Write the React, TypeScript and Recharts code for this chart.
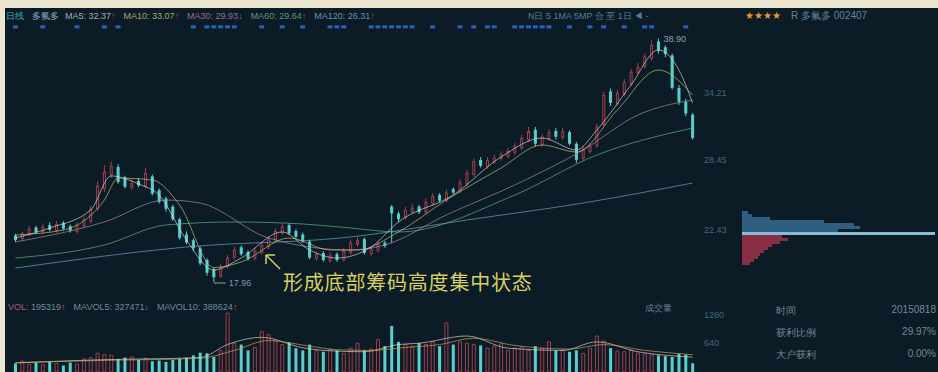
import React from 'react';
import { ComposedChart, BarChart, Bar, Line, XAxis, YAxis, Scatter, ReferenceDot, Cell } from 'recharts';

// daily candles, 多氟多 002407
const opens = [
  21.9, 21.7, 22.1, 22.6, 22.3, 22.8, 22.4, 23.0, 22.7, 22.3,
  22.8, 23.2, 24.3, 26.0, 27.2, 27.8, 26.9, 26.1, 26.6, 26.2,
  27.0, 25.8, 25.1, 24.4, 23.3, 22.0, 21.5, 20.8, 19.8, 19.0,
  18.5, 19.3, 20.1, 20.9, 20.5, 20.0, 20.5, 21.0, 21.6, 22.2,
  22.8, 22.3, 22.0, 21.4, 20.0, 20.4, 19.8, 20.3, 19.9, 20.5,
  21.2, 21.6, 20.4, 20.7, 21.3, 24.4, 23.8, 23.5, 24.0, 24.4,
  24.0, 24.7, 25.4, 25.0, 25.9, 25.8, 26.4, 27.2, 28.4, 27.9,
  28.3, 28.6, 28.8, 29.1, 29.5, 30.2, 31.0, 29.8, 30.3, 30.9,
  30.4, 30.8, 29.8, 28.6, 29.2, 29.7, 31.5, 34.3, 33.3, 34.1,
  35.0, 36.0, 36.5, 37.2, 38.6, 38.1, 37.4, 34.6, 33.4, 32.3,
];
const closes = [
  21.6, 22.1, 22.5, 22.3, 22.7, 22.5, 22.9, 22.6, 22.4, 22.8,
  23.3, 24.2, 26.2, 27.4, 27.9, 26.6, 26.2, 26.4, 26.3, 27.3,
  25.6, 24.9, 24.3, 23.4, 21.8, 21.4, 20.9, 19.6, 18.8, 18.4,
  19.2, 20.0, 20.7, 20.4, 20.0, 20.6, 21.1, 21.6, 22.3, 22.7,
  22.2, 21.9, 21.5, 20.1, 20.3, 19.9, 20.2, 19.9, 20.6, 21.3,
  21.5, 20.5, 20.8, 21.2, 21.1, 23.9, 23.4, 24.1, 24.3, 24.0,
  24.8, 25.3, 25.0, 25.6, 25.7, 26.5, 27.3, 28.3, 28.0, 28.4,
  28.6, 28.9, 29.2, 29.6, 30.3, 30.9, 29.9, 30.4, 30.8, 30.5,
  30.9, 29.9, 28.5, 29.3, 29.6, 31.3, 34.0, 33.4, 34.2, 35.1,
  36.0, 36.4, 37.3, 38.3, 37.9, 37.6, 34.7, 33.5, 32.5, 30.4,
];
const highs = [
  22.1, 22.3, 22.8, 22.8, 23.0, 23.1, 23.2, 23.2, 22.9, 23.1,
  23.6, 24.5, 26.6, 28.0, 28.3, 28.1, 27.1, 26.8, 26.9, 27.8,
  27.2, 26.0, 25.3, 24.6, 23.5, 22.3, 21.7, 21.0, 20.0, 19.2,
  19.5, 20.3, 21.0, 21.1, 20.7, 20.9, 21.4, 21.9, 22.6, 23.0,
  23.0, 22.5, 22.2, 21.6, 20.6, 20.6, 20.5, 20.5, 20.9, 21.6,
  21.8, 21.8, 21.0, 21.5, 21.5, 24.6, 24.0, 24.4, 24.7, 24.6,
  25.1, 25.6, 25.6, 25.9, 26.1, 26.8, 27.6, 28.6, 28.7, 28.7,
  28.9, 29.2, 29.5, 29.9, 30.6, 31.3, 31.3, 30.7, 31.1, 31.2,
  31.2, 31.0, 30.0, 29.6, 29.9, 31.6, 34.3, 34.6, 34.5, 35.4,
  36.3, 36.8, 37.6, 38.8, 38.9, 38.3, 37.6, 34.9, 33.7, 32.5,
];
const lows = [
  21.4, 21.5, 21.9, 22.1, 22.1, 22.3, 22.2, 22.4, 22.2, 22.1,
  22.6, 23.0, 24.1, 25.7, 26.9, 26.4, 26.0, 25.9, 26.1, 26.0,
  25.4, 24.7, 24.0, 23.2, 21.6, 21.2, 20.6, 19.4, 18.5, 17.96,
  18.3, 19.1, 19.9, 20.2, 19.8, 19.8, 20.3, 20.8, 21.4, 22.0,
  22.0, 21.7, 21.3, 19.9, 19.8, 19.7, 19.6, 19.7, 19.7, 20.3,
  21.0, 20.3, 20.2, 20.5, 20.9, 21.3, 23.1, 23.3, 23.8, 23.8,
  23.8, 24.5, 24.8, 24.8, 25.5, 25.6, 26.2, 27.0, 27.8, 27.7,
  28.1, 28.4, 28.6, 28.9, 29.3, 30.0, 29.6, 29.6, 30.1, 30.2,
  30.2, 29.7, 28.2, 28.4, 29.0, 29.5, 31.3, 33.1, 33.1, 33.9,
  34.8, 35.8, 36.3, 37.0, 37.6, 37.3, 34.5, 33.2, 32.2, 30.2,
];
// volume, thousand shares
const volumes = [
  190, 240, 175, 210, 160, 225, 190, 145, 210, 175,
  290, 320, 415, 385, 370, 290, 320, 335, 270, 305,
  240, 255, 225, 270, 290, 320, 370, 430, 415, 335,
  480, 1310, 640, 610, 480, 545, 895, 830, 690, 610,
  655, 530, 480, 610, 480, 450, 510, 480, 415, 530,
  640, 480, 510, 720, 575, 1025, 670, 610, 575, 640,
  610, 670, 575, 1090, 610, 670, 640, 610, 590, 530,
  575, 625, 480, 530, 560, 480, 575, 530, 670, 480,
  495, 450, 480, 415, 530, 800, 690, 530, 465, 450,
  480, 415, 400, 385, 370, 350, 335, 400, 385, 195,
];

// moving averages read at sample candles: [candle index, value]
const ma5Pts = [
  [0, 21.74], [5, 22.6], [11, 24.15], [14, 27.08], [18, 26.39], [21, 25.44], [25, 21.57],
  [29, 18.99], [33, 20.02], [39, 22.26], [43, 20.71], [47, 20.02], [52, 20.97], [56, 23.12],
  [64, 25.44], [71, 28.71], [77, 30.34], [82, 29.31], [85, 31.03], [90, 34.9], [94, 37.91],
  [97, 36.19], [99, 33.35],
];
const ma10Pts = [
  [0, 22.0], [7, 22.43], [13, 25.01], [15, 26.9], [20, 26.73], [24, 24.58], [29, 19.2],
  [33, 19.68], [40, 21.74], [46, 20.71], [50, 20.71], [56, 22.26], [63, 25.01], [71, 27.76],
  [77, 29.74], [82, 29.14], [88, 32.75], [94, 36.19], [99, 34.04],
];
const ma30Pts = [
  [0, 21.4], [13, 23.12], [22, 25.01], [27, 24.75], [37, 21.74], [49, 20.71], [54, 21.14],
  [63, 23.72], [73, 26.3], [83, 29.31], [91, 32.32], [99, 33.61],
];
const ma60Pts = [
  [0, 20.02], [13, 21.14], [22, 22.86], [32, 23.12], [42, 22.95], [49, 22.6], [56, 22.26],
  [73, 25.44], [85, 28.88], [99, 31.2],
];
const ma120Pts = [
  [0, 19.16], [25, 20.97], [49, 21.83], [66, 23.29], [83, 24.75], [99, 26.47],
];
const mavol5Pts = [
  [0, 200], [12, 270], [27, 320], [31, 610], [36, 770], [42, 540], [45, 480], [51, 450],
  [56, 610], [59, 640], [66, 800], [72, 530], [80, 480], [85, 670], [91, 450], [99, 330],
];
const mavol10Pts = [
  [0, 210], [12, 255], [27, 305], [32, 480], [37, 700], [43, 575], [47, 495], [52, 480],
  [57, 545], [62, 610], [67, 750], [73, 590], [81, 510], [86, 610], [92, 480], [99, 385],
];

// candles carrying info-mine flags
const infoMarks = [
  0, 4, 9, 13, 15, 26, 28, 29, 30, 31, 32, 36, 39, 42, 46, 47, 48, 52, 53, 54, 55, 56, 57,
  58, 61, 65, 67, 69, 70, 73, 74, 75, 76, 77, 78, 81, 84, 86, 89, 92, 93, 98,
];

// chip distribution
const chipPrices = [
  23.89, 23.64, 23.38, 23.12, 22.86, 22.6, 22.35, 22.09, 21.83, 21.57, 21.31, 21.06, 20.8,
  20.54, 20.28, 20.02, 19.77, 19.51,
];
const chipAmounts = [6, 10, 28, 82, 112, 118, 96, 193, 40, 46, 38, 30, 26, 22, 18, 16, 12, 8];
const currentChip = 22.09;

const priceTicks = [22.43, 28.45, 34.21];
const volTicks = [640, 1280];

const BG = '#0b1c27';
const CYAN = '#5ccfcc';
const RED = '#a23e4c';
const PRICE_DOMAIN = [16.84, 40.49];
const MARK_Y = 39.9;

const table: any[] = closes.map((c, i) => ({
  i,
  open: opens[i],
  close: c,
  high: highs[i],
  low: lows[i],
  range: [lows[i], highs[i]],
  vol: volumes[i],
  mark: infoMarks.includes(i) ? MARK_Y : null,
}));
const put = (key: string, pts: number[][]) => pts.forEach(([i, v]) => (table[i][key] = v));
put('ma5', ma5Pts);
put('ma10', ma10Pts);
put('ma30', ma30Pts);
put('ma60', ma60Pts);
put('ma120', ma120Pts);
put('mavol5', mavol5Pts);
put('mavol10', mavol10Pts);

const chips = chipPrices.map((p, k) => ({ p, v: chipAmounts[k] }));

const Candle = (props: any) => {
  const { x, y, width, height, payload } = props;
  const { open, close, high, low } = payload;
  const top = Math.min(y, y + height);
  const h = Math.abs(height);
  const k = high === low ? 0 : h / (high - low);
  const yOf = (v: number) => top + (high - v) * k;
  const up = close >= open;
  const color = up ? RED : CYAN;
  const bodyTop = yOf(Math.max(open, close));
  const bodyH = Math.max(1, Math.abs(yOf(open) - yOf(close)));
  const cx = x + width / 2;
  return (
    <g>
      <line x1={cx} x2={cx} y1={top} y2={top + h} stroke={color} strokeWidth={1} />
      <rect
        x={x + 0.5}
        y={bodyTop}
        width={width - 1}
        height={bodyH}
        fill={up ? BG : color}
        stroke={color}
        strokeWidth={1}
      />
    </g>
  );
};

const Flag = (p: any) => {
  if (p.payload == null || p.payload.mark == null || isNaN(p.cy)) return <g />;
  return <rect x={p.cx - 2.5} y={p.cy - 1.5} width={5} height={3} fill="#2a62bd" />;
};

const LowLabel = (p: any) => {
  const { x, y } = p.viewBox;
  return (
    <g>
      <line x1={x} x2={x + 12} y1={y + 1} y2={y + 1} stroke="#8aa0aa" strokeWidth={1} />
      <text x={x + 15} y={y + 4} fill="#7f98a4" fontSize={9} fontFamily="Liberation Sans">
        17.96
      </text>
    </g>
  );
};

const tick = { fill: '#45697a', fontSize: 9, fontFamily: 'Liberation Sans' };
const lineProps = {
  type: 'monotone' as const,
  connectNulls: true,
  dot: false,
  strokeWidth: 1,
  isAnimationActive: false,
  strokeOpacity: 0.65,
};

const hdr: React.CSSProperties = {
  position: 'absolute',
  fontSize: 9,
  fontFamily: 'Liberation Sans',
  color: '#7fa3b6',
  whiteSpace: 'nowrap',
};

export default function App() {
  return (
    <div style={{ position: 'fixed', left: 0, top: 0, width: 938, height: 372, background: BG, overflow: 'hidden' }}>
      {/* photo border */}
      <div style={{ position: 'absolute', left: 0, top: 0, width: 938, height: 8, background: '#ebe6cf' }} />
      <div style={{ position: 'absolute', left: 0, top: 0, width: 5, height: 372, background: '#ebe6cf' }} />

      {/* header */}
      <div style={{ ...hdr, left: 6, top: 10, opacity: 0.85 }}>
        <span style={{ color: '#49c0d8' }}>日线</span>
        <span style={{ marginLeft: 8, color: '#9fc2d2' }}>多氟多</span>
        <span style={{ marginLeft: 6, color: '#b8c4ca' }}>MA5: 32.37</span>
        <span style={{ color: '#d04a4a' }}>↑</span>
        <span style={{ marginLeft: 8, color: '#c4be78' }}>MA10: 33.07</span>
        <span style={{ color: '#d04a4a' }}>↑</span>
        <span style={{ marginLeft: 8, color: '#b07aa6' }}>MA30: 29.93</span>
        <span style={{ color: '#4a98d8' }}>↓</span>
        <span style={{ marginLeft: 8, color: '#62b08a' }}>MA60: 29.64</span>
        <span style={{ color: '#d04a4a' }}>↑</span>
        <span style={{ marginLeft: 8, color: '#7aa6c6' }}>MA120: 26.31</span>
        <span style={{ color: '#d04a4a' }}>↑</span>
      </div>
      <div style={{ ...hdr, left: 528, top: 10, color: '#557f94' }}>N日 5 1MA 5MP  合 至 1日  ◀ -</div>
      <div style={{ ...hdr, left: 745, top: 9, fontSize: 10 }}>
        <span style={{ color: '#e89a2c' }}>★★★★</span>
        <span style={{ marginLeft: 10, color: '#5f8498' }}>R 多氟多 002407</span>
      </div>

      {/* price panel */}
      <div style={{ position: 'absolute', left: 12, top: 20 }}>
        <ComposedChart width={724} height={275} data={table} margin={{ top: 0, right: 0, bottom: 0, left: 0 }}>
          <XAxis dataKey="i" hide />
          <YAxis
            orientation="right"
            width={40}
            domain={PRICE_DOMAIN}
            allowDataOverflow
            ticks={priceTicks}
            tickFormatter={(v: number) => v.toFixed(2)}
            tick={tick}
            axisLine={false}
            tickLine={false}
          />
          <Line dataKey="ma120" stroke="#7aa8c8" {...lineProps} />
          <Line dataKey="ma60" stroke="#6ab890" {...lineProps} />
          <Line dataKey="ma30" stroke="#b88aae" {...lineProps} />
          <Line dataKey="ma10" stroke="#cfc676" {...lineProps} />
          <Line dataKey="ma5" stroke="#d6dcdc" {...lineProps} />
          <Bar dataKey="range" barSize={3} shape={Candle} isAnimationActive={false} />
          <Scatter dataKey="mark" shape={Flag} isAnimationActive={false} />
          <ReferenceDot
            x={94}
            y={38.9}
            r={0}
            label={{ value: '38.90', position: 'right', fill: '#8aa2ae', fontSize: 9, fontFamily: 'Liberation Sans' }}
          />
          <ReferenceDot x={29} y={17.96} r={0} label={<LowLabel />} />
        </ComposedChart>
      </div>

      {/* annotation */}
      <svg style={{ position: 'absolute', left: 0, top: 0 }} width={938} height={372}>
        <g stroke="#d8d062" strokeWidth={1.5} fill="none">
          <line x1={280} y1={269} x2={266} y2={255} />
          <line x1={266} y1={255} x2={266} y2={264} />
          <line x1={266} y1={255} x2={275} y2={255} />
        </g>
      </svg>
      <div
        style={{
          position: 'absolute',
          left: 283,
          top: 272,
          fontSize: 20,
          lineHeight: '20px',
          letterSpacing: 0.8,
          color: '#d8d062',
          fontFamily: '"Noto Sans CJK SC"',
          whiteSpace: 'nowrap',
        }}
      >
        形成底部筹码高度集中状态
      </div>

      {/* chip distribution */}
      <div style={{ position: 'absolute', left: 742, top: 211 }}>
        <BarChart
          layout="vertical"
          width={196}
          height={54}
          data={chips}
          margin={{ top: 0, right: 0, bottom: 0, left: 0 }}
          barCategoryGap={0}
        >
          <XAxis type="number" hide domain={[0, 196]} />
          <YAxis type="category" dataKey="p" hide />
          <Bar dataKey="v" isAnimationActive={false}>
            {chips.map((c) => (
              <Cell
                key={c.p}
                fill={c.p === currentChip ? '#86bcd6' : c.p > currentChip ? '#2f5f80' : '#8a2e46'}
              />
            ))}
          </Bar>
        </BarChart>
      </div>

      {/* volume panel */}
      <div style={{ position: 'absolute', left: 12, top: 300 }}>
        <ComposedChart width={724} height={72} data={table} margin={{ top: 0, right: 0, bottom: 0, left: 0 }}>
          <XAxis dataKey="i" hide />
          <YAxis
            orientation="right"
            width={40}
            domain={[0, 1600]}
            ticks={volTicks}
            tick={tick}
            axisLine={false}
            tickLine={false}
          />
          <Bar dataKey="vol" barSize={3} isAnimationActive={false}>
            {table.map((d) => (
              <Cell
                key={d.i}
                fill={d.close >= d.open ? BG : CYAN}
                stroke={d.close >= d.open ? RED : CYAN}
                strokeWidth={d.close >= d.open ? 1 : 0}
              />
            ))}
          </Bar>
          <Line dataKey="mavol5" stroke="#dcdcdc" {...lineProps} />
          <Line dataKey="mavol10" stroke="#d8a850" {...lineProps} />
        </ComposedChart>
      </div>
      <div style={{ ...hdr, left: 8, top: 302, color: '#6f8a98' }}>
        <span style={{ color: '#b0587e' }}>VOL</span>: 195319<span style={{ color: '#d04a4a' }}>↑</span>
        <span style={{ marginLeft: 8 }}>MAVOL5: 327471</span>
        <span style={{ color: '#4a98d8' }}>↓</span>
        <span style={{ marginLeft: 8 }}>MAVOL10: 388624</span>
        <span style={{ color: '#d04a4a' }}>↑</span>
      </div>
      <div style={{ ...hdr, left: 645, top: 302, color: '#627e8c' }}>成交量</div>

      {/* info panel */}
      <div style={{ ...hdr, left: 776, top: 304, fontSize: 10, color: '#718a96' }}>时间</div>
      <div style={{ ...hdr, left: 776, top: 326, fontSize: 10, color: '#718a96' }}>获利比例</div>
      <div style={{ ...hdr, left: 776, top: 348, fontSize: 10, color: '#718a96' }}>大户获利</div>
      <div style={{ ...hdr, right: 2, top: 304, fontSize: 10, color: '#718a96' }}>20150818</div>
      <div style={{ ...hdr, right: 2, top: 326, fontSize: 10, color: '#718a96' }}>29.97%</div>
      <div style={{ ...hdr, right: 2, top: 348, fontSize: 10, color: '#718a96' }}>0.00%</div>
    </div>
  );
}
